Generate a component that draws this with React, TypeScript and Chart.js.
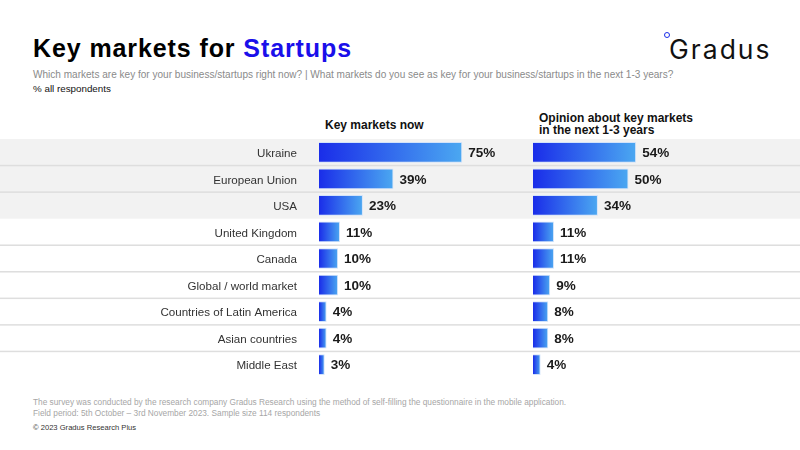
import React, { useEffect, useRef } from "react";
import { Chart, registerables } from "chart.js";

Chart.register(...registerables);

const categories = [
  "Ukraine",
  "European Union",
  "USA",
  "United Kingdom",
  "Canada",
  "Global / world market",
  "Countries of Latin America",
  "Asian countries",
  "Middle East",
];
const nowValues = [75, 39, 23, 11, 10, 10, 4, 4, 3];
const futureValues = [54, 50, 34, 11, 11, 9, 8, 8, 4];
const highlightedRows = 3;

const FONT = "'Liberation Sans', Arial, Helvetica, sans-serif";
const DARK = "#1a2de9";
const LIGHT = "#4ba8f1";

function bandsPlugin() {
  return {
    id: "rowBands",
    beforeDraw(chart: any) {
      const y = chart.scales.y;
      const ctx = chart.ctx;
      const n = categories.length;
      const step = (y.bottom - y.top) / n;
      ctx.save();
      for (let i = 0; i < n; i++) {
        const top = y.getPixelForValue(i) - step / 2;
        if (i < highlightedRows) {
          ctx.fillStyle = "#f2f2f2";
          ctx.fillRect(0, top, chart.width, step);
        }
      }
      ctx.fillStyle = "#dedede";
      for (let i = 1; i < n; i++) {
        const top = y.getPixelForValue(i) - step / 2;
        if (i === highlightedRows) continue;
        ctx.fillRect(0, top - 0.75, chart.width, 1.5);
      }
      ctx.restore();
    },
  };
}

function labelsPlugin(values: number[]) {
  return {
    id: "valueLabels",
    afterDatasetsDraw(chart: any) {
      const ctx = chart.ctx;
      const meta = chart.getDatasetMeta(0);
      ctx.save();
      ctx.font = `bold 13.5px ${FONT}`;
      ctx.fillStyle = "#1a1a1a";
      ctx.textAlign = "left";
      ctx.textBaseline = "middle";
      meta.data.forEach((bar: any, i: number) => {
        ctx.fillText(values[i] + "%", bar.x + 6, bar.y + 1);
      });
      ctx.restore();
    },
  };
}

function gradientFill(c: any) {
  const chart = c.chart;
  if (!chart.chartArea || c.raw == null) return DARK;
  const x = chart.scales.x;
  const x0 = x.getPixelForValue(0);
  const x1 = x.getPixelForValue(c.raw);
  if (!isFinite(x0) || !isFinite(x1) || x1 - x0 < 1) return DARK;
  const g = chart.ctx.createLinearGradient(x0, 0, x1, 0);
  g.addColorStop(0, DARK);
  g.addColorStop(1, LIGHT);
  return g;
}

function makeConfig(values: number[], showLabels: boolean, padding: any): any {
  return {
    type: "bar",
    data: {
      labels: categories,
      datasets: [
        {
          data: values,
          backgroundColor: gradientFill,
          borderColor: "#d3e3fa",
          borderWidth: 1,
          categoryPercentage: 1,
          barPercentage: 0.78,
        },
      ],
    },
    options: {
      indexAxis: "y",
      responsive: false,
      maintainAspectRatio: false,
      animation: false,
      layout: { padding },
      plugins: {
        legend: { display: false },
        tooltip: { enabled: false },
        title: { display: false },
      },
      scales: {
        x: {
          display: false,
          min: 0,
          max: 100,
        },
        y: {
          display: showLabels,
          grid: { display: false, drawTicks: false },
          border: { display: false },
          ticks: {
            autoSkip: false,
            padding: 22,
            labelOffset: 1.5,
            color: "#333333",
            font: { family: FONT, size: 11.6 },
          },
          afterFit: showLabels
            ? (scale: any) => {
                scale.width = 319;
                scale.paddingTop = 0;
                scale.paddingBottom = 0;
              }
            : undefined,
        },
      },
    },
    plugins: [bandsPlugin(), labelsPlugin(values)],
  };
}

function BarPanel(props: {
  values: number[];
  showLabels: boolean;
  padding: any;
  left: number;
  width: number;
}) {
  const ref = useRef<HTMLCanvasElement | null>(null);
  useEffect(() => {
    if (!ref.current) return;
    const chart = new Chart(
      ref.current,
      makeConfig(props.values, props.showLabels, props.padding)
    );
    return () => chart.destroy();
  }, []);
  return (
    <canvas
      ref={ref}
      width={props.width}
      height={239}
      style={{
        position: "absolute",
        left: props.left,
        top: 139,
        width: props.width,
        height: 239,
      }}
    />
  );
}

const abs = (o: any): any => ({ position: "absolute", whiteSpace: "nowrap", lineHeight: 1, fontFamily: FONT, ...o });

export default function App() {
  return (
    <div
      style={{
        position: "absolute",
        left: 0,
        top: 0,
        width: 800,
        height: 450,
        background: "#ffffff",
        overflow: "hidden",
        fontFamily: FONT,
      }}
    >
      <div style={abs({ left: 33, top: 35.5, fontSize: 25, fontWeight: "bold", color: "#000", letterSpacing: 0.9 })}>
        Key markets for <span style={{ color: "#1a0fea" }}>Startups</span>
      </div>
      <div style={abs({ left: 33, top: 70.2, fontSize: 10.05, color: "#8a8a8a" })}>
        Which markets are key for your business/startups right now? | What markets do you see as key for your business/startups in the next 1-3 years?
      </div>
      <div style={abs({ left: 33, top: 84.4, fontSize: 9.8, color: "#111" })}>% all respondents</div>

      <div style={abs({ left: 664, top: 31.5, width: 4, height: 4, border: "1.6px solid #1a2de9", borderRadius: "50%" })} />
      <div style={abs({ left: 669, top: 36, fontSize: 26.5, color: "#111", fontFamily: "Inter, 'Noto Sans', sans-serif", letterSpacing: 2 })}>
        Gradus
      </div>

      <div style={abs({ left: 325, top: 118.8, fontSize: 12, fontWeight: "bold", color: "#111" })}>Key markets now</div>
      <div style={abs({ left: 539, top: 111.5, fontSize: 12, fontWeight: "bold", color: "#111", lineHeight: "12.7px" })}>
        Opinion about key markets
        <br />
        in the next 1-3 years
      </div>

      <BarPanel values={nowValues} showLabels={true} padding={{ left: 0, right: 16, top: 0, bottom: 0 }} left={0} width={526} />
      <BarPanel values={futureValues} showLabels={false} padding={{ left: 7, right: 76, top: 0, bottom: 0 }} left={526} width={274} />

      <div style={abs({ left: 33, top: 398, fontSize: 8.3, color: "#a6a6a6" })}>
        The survey was conducted by the research company Gradus Research using the method of self-filling the questionnaire in the mobile application.
      </div>
      <div style={abs({ left: 33, top: 409, fontSize: 8.3, color: "#a6a6a6" })}>
        Field period: 5th October – 3rd November 2023. Sample size 114 respondents
      </div>
      <div style={abs({ left: 33, top: 423.8, fontSize: 7.6, color: "#333" })}>© 2023 Gradus Research Plus</div>
    </div>
  );
}
